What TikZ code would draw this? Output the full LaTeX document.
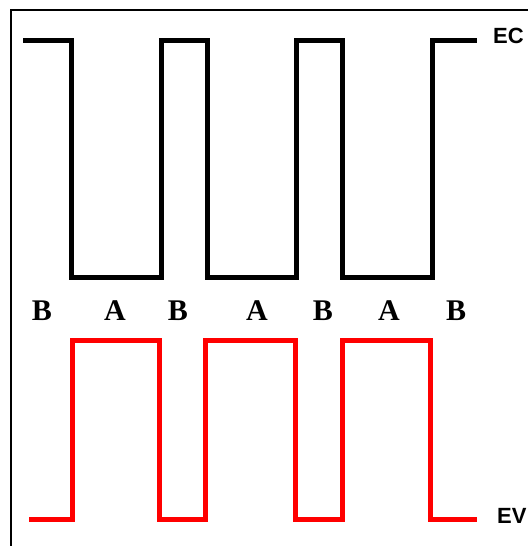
\documentclass[tikz,border=0pt]{standalone}
\usepackage{fontspec}
\setmainfont{Liberation Serif}
\newfontfamily\labelsans{Liberation Sans}
\begin{document}
\begin{tikzpicture}[x=1pt,y=-1pt,
  wave/.style={line width=5pt,line join=miter},
  frameline/.style={line width=2pt},
  phase/.style={font=\fontsize{30}{31}\selectfont\bfseries,inner sep=0pt},
  sig/.style={font=\labelsans\fontsize{22}{23}\selectfont\bfseries,inner sep=0pt,anchor=west}]
\useasboundingbox (0,0) rectangle (528,546);
\draw[frameline] (11,546) -- (11,10) -- (528,10);
\draw[wave,black] (23,40) -- (71,40) -- (71,277) -- (161,277) -- (161,40) -- (207,40) -- (207,277) -- (296,277) -- (296,40) -- (342,40) -- (342,277) -- (432,277) -- (432,40) -- (477,40);
\draw[wave,red] (29,519) -- (72,519) -- (72,340) -- (159,340) -- (159,519) -- (205,519) -- (205,340) -- (295,340) -- (295,519) -- (342,519) -- (342,340) -- (430,340) -- (430,519) -- (477,519);
\node[sig] (ec) at (493,36) {EC};
\node[sig] (ev) at (497,516) {EV};
\node[phase] (b1) at (42,311) {B};
\node[phase] (a1) at (115,311) {A};
\node[phase] (b2) at (178,311) {B};
\node[phase] (a2) at (257,311) {A};
\node[phase] (b3) at (323,311) {B};
\node[phase] (a3) at (389,311) {A};
\node[phase] (b4) at (456,311) {B};
\end{tikzpicture}
\end{document}
